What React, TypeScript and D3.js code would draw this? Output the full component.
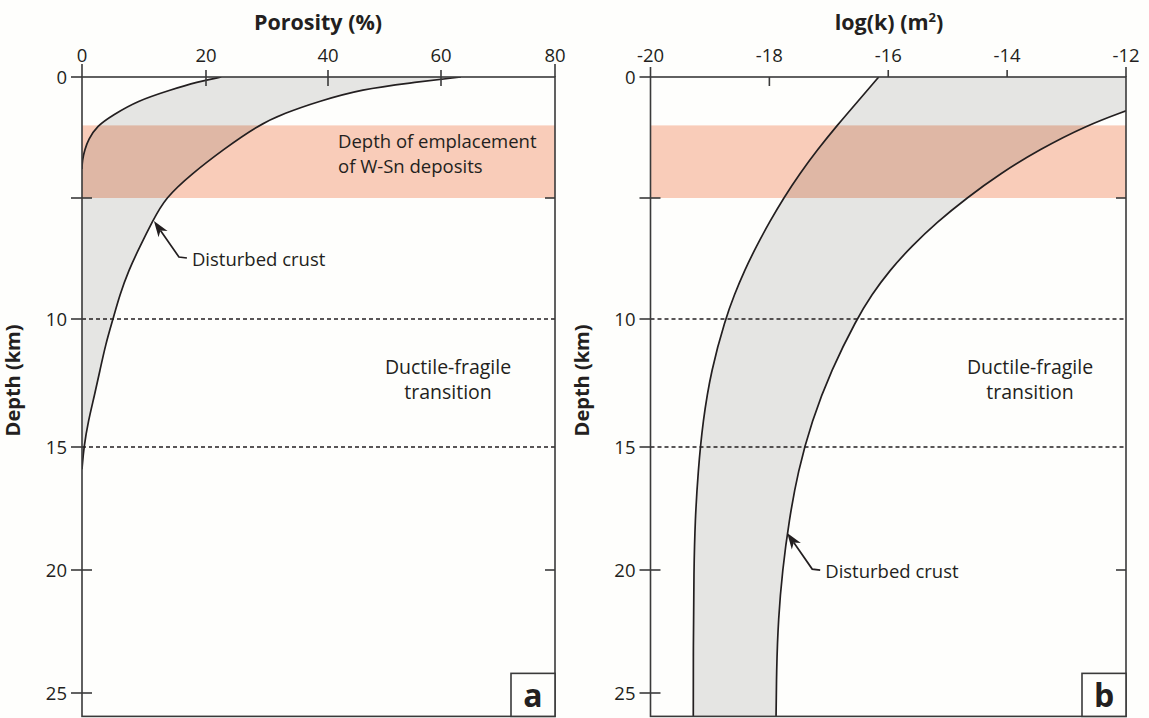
import React from "react";
import * as d3 from "d3";

// ---------- DATA ----------
const depthTicks = [0, 5, 10, 15, 20, 25];
const depthTickLabels = ["0", "", "10", "15", "20", "25"];
const dashedDepths = [10, 15];
const emplacementBand = [2, 5]; // km
const porosityTicks = [0, 20, 40, 60, 80];
const permTicks = [-20, -18, -16, -14, -12];

// Panel a: porosity (%) vs depth (km)
const lowerPorDepth = [0, 0.2, 0.54, 0.99, 1.57, 2.02, 2.6, 3.0, 3.43, 3.8];
const lowerPor = [22.5, 18.6, 14.2, 8.9, 5.0, 2.4, 1.0, 0.45, 0.05, 0];
const disturbedPorDepth = [0, 0.25, 0.5, 1, 1.5, 2, 3, 4, 5, 6, 7, 8, 9, 10, 11, 12, 13, 14, 15, 15.9];
const disturbedPor = [63.5, 54.3, 46.1, 38.5, 32.8, 28.5, 22.8, 17.7, 13.4, 11.3, 9.35, 7.5, 6.1, 5.0, 3.8, 2.9, 2.0, 1.0, 0.3, 0];

// Panel b: log(k) vs depth (km)
const lowerPermDepth = [0, 1, 2, 3, 4, 5, 6, 7, 8, 9, 10, 12, 14, 16, 18, 20, 23, 26.5];
const lowerPerm = [-16.16, -16.51, -16.86, -17.19, -17.49, -17.76, -18.0, -18.22, -18.42, -18.59, -18.74, -18.98, -19.12, -19.2, -19.25, -19.27, -19.28, -19.28];
const disturbedPermDepth = [1.4, 2, 3, 4, 5, 6, 7, 8, 9, 10, 12, 14, 16, 18, 20, 22, 24, 26.5];
const disturbedPerm = [-12.0, -12.66, -13.46, -14.12, -14.68, -15.18, -15.61, -15.98, -16.28, -16.53, -16.96, -17.29, -17.52, -17.67, -17.78, -17.85, -17.88, -17.89];

const annotA = { depth: 5.95, value: 11.6, text: "Disturbed crust" };
const annotB = { depth: 18.5, value: -17.7, text: "Disturbed crust" };
const bandTextLines = ["Depth of emplacement", "of W-Sn deposits"];
const transitionLines = ["Ductile-fragile", "transition"];

// ---------- STYLE ----------
const W = 1149, H = 718;
const FONT = "'Open Sans', 'Noto Sans', sans-serif";
const INK = "#231f20";
const FRAME = "#3a3a3a";
const GRAY = "#e5e5e3";
const PINK = "#f9ccb9";
const BG = "#fefefc";

type Pt = [number, number];
const zip = (a: number[], b: number[]): Pt[] => a.map((d, i) => [d, b[i]]);

const depthMax = 25.95;
const y = d3.scaleLinear().domain([0, 10, 15, 25]).range([77, 319, 447, 693]);
const xA = d3.scaleLinear().domain(porosityTicks).range([82, 206, 328, 441, 555]);
const xB = d3.scaleLinear().domain([-20, -12]).range([650.5, 1126]);

function Arrow({ tx, ty, text }: { tx: number; ty: number; text: string }) {
  const sx = tx + 25, sy = ty + 36;
  const ex = sx + 8, ey = sy + 1;
  const ang = Math.atan2(ty - sy, tx - sx);
  const L = 16, hw = 5.5;
  const bx = tx - L * Math.cos(ang), by = ty - L * Math.sin(ang);
  const px = -Math.sin(ang) * hw, py = Math.cos(ang) * hw;
  const mx = tx - (L * 0.72) * Math.cos(ang), my = ty - (L * 0.72) * Math.sin(ang);
  return (
    <g>
      <path d={`M${ex},${ey}L${sx},${sy}L${mx},${my}`} fill="none" stroke={INK} strokeWidth={1.7} />
      <path d={`M${tx},${ty}L${bx + px},${by + py}L${mx},${my}L${bx - px},${by - py}Z`} fill={INK} />
      <text x={tx + 38} y={ty + 45} fontSize={18.5} fill={INK} fontFamily={FONT}>{text}</text>
    </g>
  );
}

function Frame({ x, ticks, tickSpan, letter }: {
  x: d3.ScaleLinear<number, number>; ticks: number[]; tickSpan: (v: number, i: number) => [number, number]; letter: string;
}) {
  const [xl, xr] = [x(ticks[0]), x(ticks[ticks.length - 1])];
  const yt = y(0), yb = y(depthMax);
  return (
    <g>
      {dashedDepths.map((d) => (
        <line key={"dash" + d} x1={xl} x2={xr} y1={y(d)} y2={y(d)} stroke={INK} strokeWidth={1.3} strokeDasharray="4 3" />
      ))}
      <rect x={xl} y={yt} width={xr - xl} height={yb - yt} fill="none" stroke={FRAME} strokeWidth={1.6} />
      {ticks.map((v, i) => {
        const [a, b] = tickSpan(v, i);
        return <line key={"tt" + v} x1={x(v)} x2={x(v)} y1={yt + a} y2={yt + b} stroke={FRAME} strokeWidth={1.6} />;
      })}
      {ticks.map((v) => (
        <text key={"tl" + v} x={x(v)} y={62} textAnchor="middle" fontSize={18.5} fill={INK} fontFamily={FONT}>{String(v)}</text>
      ))}
      {depthTicks.map((d, i) => {
        const yy = y(d);
        const dashed = dashedDepths.includes(d);
        const inner = d !== 0 && !dashed;
        return (
          <g key={"dt" + d}>
            <line x1={xl - 11} x2={inner ? xl + 10 : xl} y1={yy} y2={yy} stroke={FRAME} strokeWidth={1.6} />
            {inner && <line x1={xr - 10} x2={xr} y1={yy} y2={yy} stroke={FRAME} strokeWidth={1.6} />}
            {depthTickLabels[i] && (
              <text x={xl - 15} y={yy} dy="0.36em" textAnchor="end" fontSize={18.5} fill={INK} fontFamily={FONT}>{depthTickLabels[i]}</text>
            )}
          </g>
        );
      })}
      <rect x={xr - 44} y={yb - 43} width={44} height={43} fill={BG} stroke={FRAME} strokeWidth={1.6} />
      <text x={xr - 22} y={yb - 9} textAnchor="middle" fontSize={32} fontWeight={700} fill={INK} fontFamily={FONT}>{letter}</text>
      <text transform={`translate(${xl - 62},${y(12.4)}) rotate(-90)`} textAnchor="middle" fontSize={20} fontWeight={700} fill={INK} fontFamily={FONT}>Depth (km)</text>
    </g>
  );
}

export default function App() {
  const yt = y(0), yb = y(depthMax);

  const lineA = d3.line<Pt>().x((d) => xA(d[1])).y((d) => y(d[0])).curve(d3.curveBasis);
  const lowA = zip(lowerPorDepth, lowerPor);
  const distA = zip(disturbedPorDepth, disturbedPor);
  const fillA = (lineA(distA) as string) + (lineA(lowA.slice().reverse()) as string).replace(/^M/, "L") + "Z";

  const lineB = d3.line<Pt>().x((d) => xB(d[1])).y((d) => y(d[0])).curve(d3.curveBasis);
  const lowB = zip(lowerPermDepth, lowerPerm);
  const distB = zip(disturbedPermDepth, disturbedPerm);
  const fillB =
    `M${xB(-12)},${y(0)}L` + (lineB(distB) as string).slice(1) +
    (lineB(lowB.slice().reverse()) as string).replace(/^M/, "L") + "Z";

  const xlA = xA(0), xrA = xA(80), xlB = xB(-20), xrB = xB(-12);

  return (
    <svg width={W} height={H} style={{ position: "absolute", left: 0, top: 0, background: BG }}>
      <defs>
        <clipPath id="clipA"><rect x={xlA} y={yt} width={xrA - xlA} height={yb - yt} /></clipPath>
        <clipPath id="clipB"><rect x={xlB} y={yt} width={xrB - xlB} height={yb - yt} /></clipPath>
      </defs>
      <rect width={W} height={H} fill={BG} />

      {/* Panel a */}
      <g clipPath="url(#clipA)">
        <path d={fillA} fill={GRAY} />
        <rect x={xlA} y={y(emplacementBand[0])} width={xrA - xlA} height={y(emplacementBand[1]) - y(emplacementBand[0])} fill={PINK} style={{ mixBlendMode: "multiply" }} />
        <path d={lineA(lowA) as string} fill="none" stroke={INK} strokeWidth={1.7} />
        <path d={lineA(distA) as string} fill="none" stroke={INK} strokeWidth={1.7} />
      </g>
      <Frame x={xA} ticks={porosityTicks} letter="a"
        tickSpan={(v, i) => (i === 0 || i === porosityTicks.length - 1 ? [-13, 0] : [-7, 9])} />
      <text x={318} y={30} textAnchor="middle" fontSize={21.5} fontWeight={700} fill={INK} fontFamily={FONT}>Porosity (%)</text>
      {bandTextLines.map((t, i) => (
        <text key={t} x={338} y={148 + i * 25} fontSize={18.5} fill={INK} fontFamily={FONT}>{t}</text>
      ))}
      {transitionLines.map((t, i) => (
        <text key={t} x={448} y={374 + i * 25} textAnchor="middle" fontSize={19.5} fill={INK} fontFamily={FONT}>{t}</text>
      ))}
      <Arrow tx={xA(annotA.value)} ty={y(annotA.depth)} text={annotA.text} />

      {/* Panel b */}
      <g clipPath="url(#clipB)">
        <path d={fillB} fill={GRAY} />
        <rect x={xlB} y={y(emplacementBand[0])} width={xrB - xlB} height={y(emplacementBand[1]) - y(emplacementBand[0])} fill={PINK} style={{ mixBlendMode: "multiply" }} />
        <path d={lineB(lowB) as string} fill="none" stroke={INK} strokeWidth={1.7} />
        <path d={lineB(distB) as string} fill="none" stroke={INK} strokeWidth={1.7} />
      </g>
      <Frame x={xB} ticks={permTicks} letter="b"
        tickSpan={(v, i) => (i === 0 || i === permTicks.length - 1 ? [-10, 0] : v === -18 ? [0, 9] : [-7, 0])} />
      <text x={889} y={30} textAnchor="middle" fontSize={21.5} fontWeight={700} fill={INK} fontFamily={FONT}>
        log(k) (m<tspan fontSize={13} dy={-8}>2</tspan><tspan dy={8}>)</tspan>
      </text>
      {transitionLines.map((t, i) => (
        <text key={t} x={1030} y={374 + i * 25} textAnchor="middle" fontSize={19.5} fill={INK} fontFamily={FONT}>{t}</text>
      ))}
      <Arrow tx={xB(annotB.value)} ty={y(annotB.depth)} text={annotB.text} />
    </svg>
  );
}
